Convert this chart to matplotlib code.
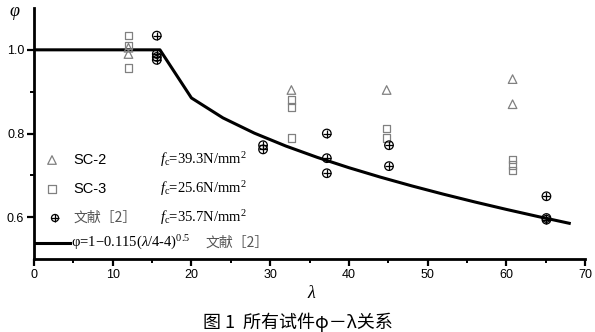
import numpy as np
import matplotlib
matplotlib.use("Agg")
import matplotlib.pyplot as plt

plt.rcParams['font.family'] = ['Liberation Sans', 'DejaVu Sans']
plt.rcParams['mathtext.fontset'] = 'custom'
plt.rcParams['mathtext.rm'] = 'Liberation Serif'
plt.rcParams['mathtext.it'] = 'Liberation Serif:italic'

# Test data: slenderness ratio lambda vs stability coefficient phi
sc2_lam = [12, 12, 32.7, 44.8, 60.8, 60.8]
sc2_phi = [1.005, 0.99, 0.904, 0.904, 0.93, 0.87]

sc3_lam = [12, 12, 12, 32.7, 32.7, 32.7, 44.8, 44.8, 60.8, 60.8, 60.8]
sc3_phi = [1.034, 1.01, 0.957, 0.88, 0.864, 0.789, 0.812, 0.789, 0.738, 0.725, 0.712]

ref_lam = [15.6, 15.6, 15.6, 15.6, 29.1, 29.1, 37.2, 37.2, 37.2, 45.1, 45.1, 65.1, 65.1, 65.1]
ref_phi = [1.034, 0.99, 0.983, 0.976, 0.772, 0.762, 0.80, 0.741, 0.705, 0.772, 0.722, 0.65, 0.598, 0.594]

# Design curve: phi = 1 up to lambda = 16, then phi = 1 - 0.115*sqrt(lambda/4 - 4)
curve_lam = np.array([0, 16, 20, 24, 28, 32, 36, 40, 44, 48, 52, 56, 60, 64, 68], dtype=float)
curve_phi = np.where(curve_lam <= 16, 1.0,
                     1 - 0.115 * np.sqrt(np.clip(curve_lam / 4 - 4, 0, None)))

x_ticks = [0, 10, 20, 30, 40, 50, 60, 70]
y_ticks = [0.6, 0.8, 1.0]

W, H = 595, 332
fig = plt.figure(figsize=(W / 100, H / 100), dpi=100)
ax = fig.add_axes([34 / W, 1 - 259 / H, 551 / W, 251 / H])

gray = '#808080'
ax.plot(curve_lam, curve_phi, color='black', lw=2.2, zorder=3)
ax.scatter(sc2_lam, sc2_phi, marker='^', s=38, facecolors='none', edgecolors=gray, linewidths=0.9, zorder=4)
ax.scatter(sc3_lam, sc3_phi, marker='s', s=30, facecolors='none', edgecolors=gray, linewidths=0.9, zorder=4)
ax.scatter(ref_lam, ref_phi, marker='o', s=38, facecolors='none', edgecolors='black', linewidths=0.9, zorder=5)
ax.scatter(ref_lam, ref_phi, marker='+', s=38, color='black', linewidths=0.9, zorder=5)

ax.set_xlim(0, 70)
ax.set_ylim(0.5, 1.1)
ax.set_xticks(x_ticks)
ax.set_xticks([5, 15, 25, 35, 45, 55, 65], minor=True)
ax.set_yticks(y_ticks)
ax.set_yticks([0.7, 0.9], minor=True)
ax.set_yticklabels(['0.6', '0.8', '1.0'])

for s in ['top', 'right']:
    ax.spines[s].set_visible(False)
for s in ['left', 'bottom']:
    ax.spines[s].set_linewidth(2.0)
ax.tick_params(which='major', direction='out', length=5, width=1.6, labelsize=9, pad=2)
ax.tick_params(which='minor', direction='out', length=3, width=1.4)

# Legend block
def fx(px):
    return (px - 34) / 551

def fy(py):
    return (259 - py) / 251

tr = ax.transAxes
ax.scatter([fx(52)], [fy(160)], marker='^', s=38, facecolors='none', edgecolors=gray, linewidths=0.9, transform=tr, clip_on=False)
ax.scatter([fx(52)], [fy(189)], marker='s', s=30, facecolors='none', edgecolors=gray, linewidths=0.9, transform=tr, clip_on=False)
ax.scatter([fx(55)], [fy(218)], marker='o', s=26, facecolors='none', edgecolors='black', linewidths=0.9, transform=tr, clip_on=False)
ax.scatter([fx(55)], [fy(218)], marker='+', s=26, color='black', linewidths=0.9, transform=tr, clip_on=False)
ax.plot([fx(35), fx(70)], [fy(243), fy(243)], color='black', lw=2.2, transform=tr, clip_on=False)

ax.text(fx(73), fy(160), 'SC-2', transform=tr, va='center', ha='left', fontsize=10.5)
ax.text(fx(73), fy(189), 'SC-3', transform=tr, va='center', ha='left', fontsize=10.5)
ax.text(fx(74), fy(218), '文献［2］', transform=tr, va='center', ha='left', fontsize=10,
        family=['Noto Sans CJK SC', 'DejaVu Sans'], color='#555555')
serif = ['Liberation Serif', 'DejaVu Serif']
ax.text(fx(160), fy(160), r'$f_{\mathrm{c}}$=39.3N/mm$^{2}$', transform=tr, va='center', ha='left', fontsize=10.5, family=serif)
ax.text(fx(160), fy(189), r'$f_{\mathrm{c}}$=25.6N/mm$^{2}$', transform=tr, va='center', ha='left', fontsize=10.5, family=serif)
ax.text(fx(160), fy(218), r'$f_{\mathrm{c}}$=35.7N/mm$^{2}$', transform=tr, va='center', ha='left', fontsize=10.5, family=serif)
ax.text(fx(71), fy(243), r'φ=1−0.115($\lambda$/4-4)$^{0.5}$', transform=tr, va='center', ha='left', fontsize=10.5, family=serif)
ax.text(fx(205), fy(243), '文献［2］', transform=tr, va='center', ha='left', fontsize=10,
        family=['Noto Sans CJK SC', 'DejaVu Sans'], color='#555555')

# Axis titles and caption
fig.text(15 / W, 1 - 13 / H, r'$\varphi$', fontsize=13, ha='center', va='center')
fig.text(312 / W, 1 - 294 / H, r'$\lambda$', fontsize=13, ha='center', va='center')
fig.text(298 / W, 1 - 322 / H, '图 1  所有试件φ－λ关系', fontsize=13, ha='center', va='center',
         family=['Noto Sans CJK SC', 'DejaVu Sans'])

fig.savefig('out.png', dpi=100)
